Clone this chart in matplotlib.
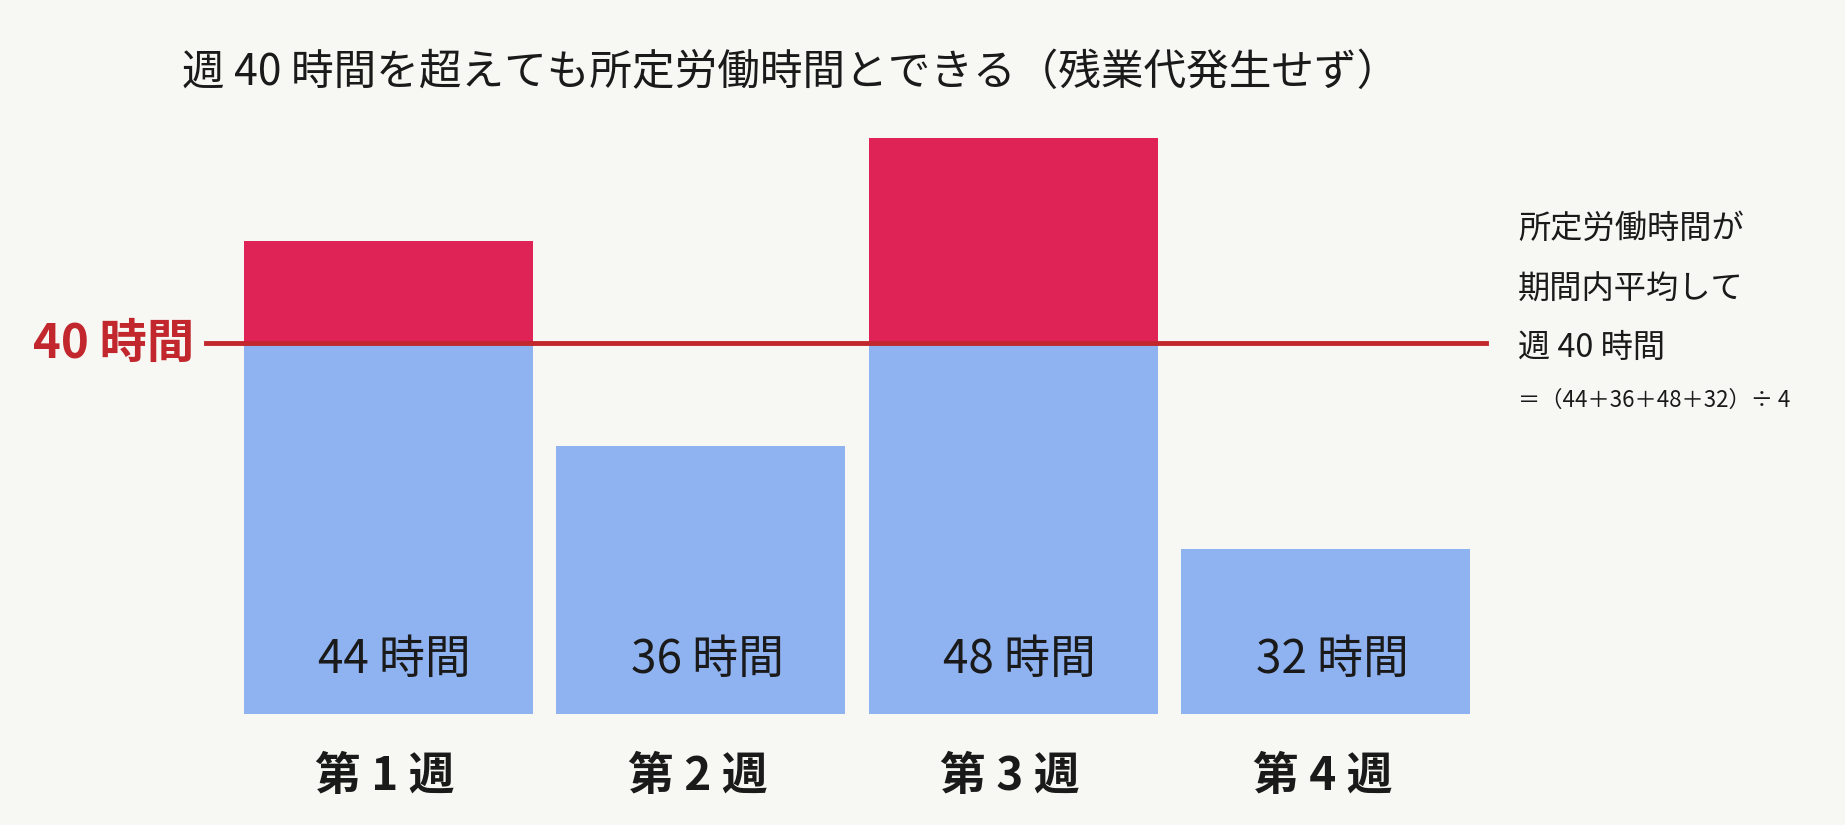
import matplotlib
matplotlib.use("Agg")
import matplotlib.pyplot as plt
import matplotlib.transforms as mtransforms

plt.rcParams['font.family'] = ['Noto Sans CJK JP', 'DejaVu Sans']

# data
weeks = ["第 1 週", "第 2 週", "第 3 週", "第 4 週"]
hours = [44, 36, 48, 32]
value_labels = ["44 時間", "36 時間", "48 時間", "32 時間"]
limit = 40
title = "週 40 時間を超えても所定労働時間とできる（残業代発生せず）"
note_lines = ["所定労働時間が", "期間内平均して", "週 40 時間"]
note_formula = "＝（44＋36＋48＋32）÷ 4"

# style
bg = "#F7F7F3"
blue = "#8FB2F1"
red = "#E02357"
line_red = "#C1272D"
text_col = "#1A1A1A"
floor = 25.56  # visual floor of the bars (schematic chart)

fig = plt.figure(figsize=(18.45, 8.25), dpi=100, facecolor=bg)
ax = fig.add_axes([0, 0, 1, 1])
ax.set_facecolor(bg)

x = list(range(len(hours)))
base = [min(h, limit) for h in hours]
over = [max(h - limit, 0) for h in hours]

ax.bar(x, [b - floor for b in base], bottom=floor, width=0.926, color=blue, linewidth=0)
ax.bar(x, over, bottom=limit, width=0.926, color=red, linewidth=0)
ax.axhline(limit, xmin=0.1117, xmax=0.8054, color=line_red, linewidth=3.5, zorder=3)

ax.set_xlim(-1.2428, 4.662)
ax.set_ylim(21.23, 53.39)
ax.axis("off")

blend = mtransforms.blended_transform_factory(ax.transData, fig.transFigure)
for xi, lab, wk in zip(x, value_labels, weeks):
    ax.text(xi + 0.02, 0.2, lab, transform=blend, ha="center", va="center",
            fontsize=33, color=text_col)
    ax.text(xi - 0.01, 0.058, wk, transform=blend, ha="center", va="center",
            fontsize=33, fontweight="bold", color=text_col)

blend_y = mtransforms.blended_transform_factory(fig.transFigure, ax.transData)
ax.text(0.1052, limit, "40 時間", transform=blend_y, ha="right", va="center",
        fontsize=34, fontweight="bold", color=line_red)

fig.text(0.0986, 0.9115, title, ha="left", va="center", fontsize=30.7, color=text_col)

for yy, line in zip([0.7224, 0.649, 0.578], note_lines):
    fig.text(0.8228, yy, line, ha="left", va="center", fontsize=23.2, color=text_col)
fig.text(0.8225, 0.515, note_formula, ha="left", va="center", fontsize=16, color=text_col)

fig.savefig("out.png", dpi=100, facecolor=bg)
